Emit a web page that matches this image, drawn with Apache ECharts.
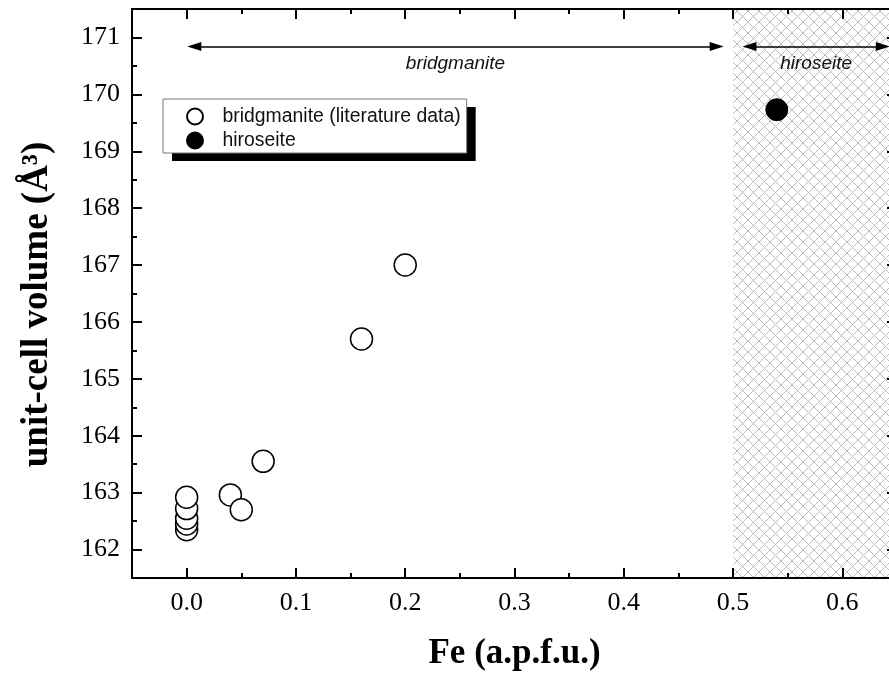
<!DOCTYPE html>
<html>
<head>
<meta charset="utf-8">
<script src="https://cdn.jsdelivr.net/npm/echarts@6/dist/echarts.min.js"></script>
<style>
  html, body { margin: 0; padding: 0; background: #fff; }
  #chart { width: 889px; height: 682px; }
</style>
</head>
<body>
<div id="chart"></div>
<script>
// data
const bridgmaniteLit = [
    [0.00, 162.35], [0.00, 162.45], [0.00, 162.55], [0.00, 162.72], [0.00, 162.92],
    [0.04, 162.96], [0.05, 162.70], [0.07, 163.55], [0.16, 165.70], [0.20, 167.00]
];
const hiroseite = [[0.54, 169.73]];

const xRange = [-0.05, 0.65];
const yRange = [161.5, 171.5];
const hiroseiteField = [0.5, 0.65];

// arrow spans (line ends, arrow heads sit on top of them) and captions
const arrowY = 170.84;
const arrows = [
    { from: 0.007, to: 0.485, text: 'bridgmanite' },
    { from: 0.515, to: 0.637, text: 'hiroseite' }
];

const legendNames = ['bridgmanite (literature data)', 'hiroseite'];

// cross hatch tile for the hiroseite field
function hatchTile() {
    const p = 11;
    const c = document.createElement('canvas');
    c.width = p; c.height = p;
    const ctx = c.getContext('2d');
    ctx.strokeStyle = '#bbbbbb';
    ctx.lineWidth = 1;
    ctx.beginPath();
    ctx.moveTo(0, 0); ctx.lineTo(p, p);
    ctx.moveTo(p, 0); ctx.lineTo(0, p);
    ctx.stroke();
    return c;
}

const serif = 'Liberation Serif';
const sans = 'Liberation Sans';

const axisCommon = {
    axisLine: { show: true, onZero: false, lineStyle: { color: '#000', width: 2 } },
    axisTick: { show: true, inside: true, length: 10, lineStyle: { color: '#000', width: 2 } },
    minorTick: { show: true, splitNumber: 2, length: 5, lineStyle: { color: '#000', width: 2 } },
    splitLine: { show: false },
    z: 5
};

function xLabel(v) {
    const r = Math.round(v * 10);
    return Math.abs(v * 10 - r) < 1e-6 ? (r / 10).toFixed(1) : '';
}
function yLabel(v) {
    return Math.abs(v - Math.round(v)) < 1e-6 ? String(Math.round(v)) : '';
}

// legend box: one copy carries the drop shadow and the entries, the other only the grey frame
const legendBase = {
    orient: 'vertical',
    left: 163,
    top: 99,
    data: legendNames,
    itemWidth: 17,
    itemHeight: 16,
    itemGap: 5,
    padding: [8, 6, 3, 23],
    borderRadius: 0,
    selectedMode: false,
    textStyle: { fontFamily: sans, fontSize: 19.4, color: '#111', lineHeight: 16, padding: [0, 0, 0, 14] }
};

const chart = echarts.init(document.getElementById('chart'));

chart.setOption({
    backgroundColor: '#fff',
    animation: false,
    grid: { left: 132, right: -8, top: 9, bottom: 104, outerBoundsMode: 'none', containLabel: false },
    legend: [
        Object.assign({}, legendBase, {
            backgroundColor: '#fff',
            borderWidth: 0,
            shadowColor: '#000',
            shadowBlur: 0,
            shadowOffsetX: 9,
            shadowOffsetY: 8
        }),
        Object.assign({}, legendBase, {
            backgroundColor: 'transparent',
            borderColor: '#777',
            borderWidth: 1,
            itemStyle: { opacity: 0 },
            textStyle: Object.assign({}, legendBase.textStyle, { color: 'rgba(0,0,0,0)' })
        })
    ],
    xAxis: [
        Object.assign({}, axisCommon, {
            type: 'value', position: 'bottom',
            min: xRange[0], max: xRange[1], splitNumber: 7,
            name: 'Fe (a.p.f.u.)', nameLocation: 'middle', nameGap: 58,
            nameTextStyle: { fontFamily: serif, fontWeight: 'bold', fontSize: 35, color: '#000' },
            axisLabel: { fontFamily: serif, fontSize: 26, color: '#000', margin: 12, formatter: xLabel }
        }),
        Object.assign({}, axisCommon, {
            type: 'value', position: 'top',
            min: xRange[0], max: xRange[1], splitNumber: 7,
            axisLabel: { show: false }
        })
    ],
    yAxis: [
        Object.assign({}, axisCommon, {
            type: 'value', position: 'left',
            min: yRange[0], max: yRange[1], splitNumber: 10,
            name: 'unit-cell volume (Å³)', nameLocation: 'middle', nameGap: 76,
            nameTextStyle: { fontFamily: serif, fontWeight: 'bold', fontSize: 37, color: '#000', padding: [0, 22, 0, 0] },
            axisLabel: { fontFamily: serif, fontSize: 26, color: '#000', margin: 12, formatter: yLabel }
        }),
        Object.assign({}, axisCommon, {
            type: 'value', position: 'right',
            min: yRange[0], max: yRange[1], splitNumber: 10,
            axisLabel: { show: false }
        })
    ],
    series: [
        {
            type: 'scatter',
            silent: true,
            data: [],
            markArea: {
                silent: true,
                itemStyle: { color: { image: hatchTile(), repeat: 'repeat' }, borderWidth: 0 },
                data: [[
                    { xAxis: hiroseiteField[0], yAxis: yRange[0] },
                    { xAxis: hiroseiteField[1], yAxis: yRange[1] }
                ]]
            },
            markLine: {
                silent: true,
                symbol: ['triangle', 'triangle'],
                symbolSize: [9, 14],
                lineStyle: { color: '#000', width: 1.5, type: 'solid' },
                label: {
                    show: true,
                    position: 'insideMiddleBottom',
                    distance: 8,
                    fontFamily: sans,
                    fontStyle: 'italic',
                    fontSize: 19,
                    color: '#111'
                },
                data: arrows.map(a => [
                    { coord: [a.from, arrowY], name: a.text, label: { formatter: a.text } },
                    { coord: [a.to, arrowY] }
                ])
            }
        },
        {
            name: legendNames[0],
            type: 'scatter',
            symbol: 'circle',
            symbolSize: 22,
            itemStyle: { color: '#fff', borderColor: '#000', borderWidth: 1.5, opacity: 1 },
            data: bridgmaniteLit,
            z: 3
        },
        {
            name: legendNames[1],
            type: 'scatter',
            symbol: 'circle',
            symbolSize: 22,
            itemStyle: { color: '#000', borderColor: '#000', borderWidth: 1, opacity: 1 },
            data: hiroseite,
            z: 3
        }
    ]
});
</script>
</body>
</html>
